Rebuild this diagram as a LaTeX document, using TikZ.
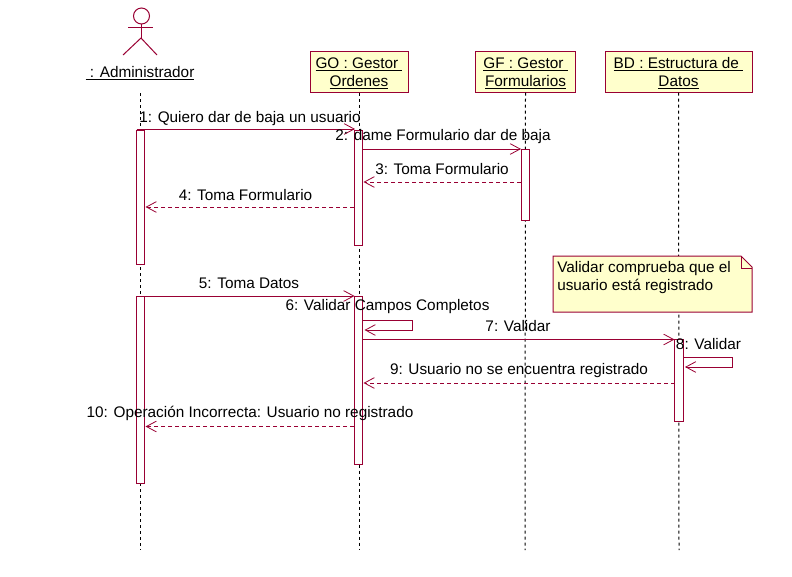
\documentclass[tikz,border=0pt]{standalone}
\usepackage{fontspec}
\setmainfont{Liberation Sans}
\usetikzlibrary{arrows.meta}
\definecolor{umlred}{RGB}{153,0,51}
\definecolor{umlfill}{RGB}{255,255,204}
\tikzset{
    objbox/.style={draw=umlred,fill=umlfill,line width=0.75pt,inner sep=0pt,align=center,font=\fontsize{11.5}{13.5}\selectfont},
    actbar/.style={draw=umlred,fill=white,line width=0.75pt,inner sep=0pt,minimum width=6.4pt},
    lifeline/.style={line width=0.75pt,dash pattern=on 2.25pt off 2.25pt},
    msg/.style={draw=umlred,line width=0.75pt,-{Straight Barb[length=7.5pt,width=8pt,line width=0.6pt]}},
    msgret/.style={msg,dash pattern=on 3pt off 2.25pt},
    msglabel/.style={inner sep=0pt,font=\fontsize{11.5}{13.5}\selectfont},
}
\begin{document}
\begin{tikzpicture}[x=0.75pt,y=-0.75pt,line cap=butt,line join=miter]
    \useasboundingbox (0,0) rectangle (792,576);
    % actor
    \draw [draw=umlred,line width=0.75pt] (141.5,16) circle (6pt);
    \draw [draw=umlred,line width=0.75pt] (141,24)-- (141,38);
    \draw [draw=umlred,line width=0.75pt] (128,27.5)-- (153,27.5);
    \draw [draw=umlred,line width=0.75pt] (123,55)-- (141,38)-- (157,55);
    \node[msglabel] (admin) at (140,73.5) {\underline{\ : Administrador}};
    % objects
    \node[objbox,minimum width=73.5pt,minimum height=30.75pt] (go) at (359,71.5) {\rule{0pt}{11pt}\underline{GO : Gestor\ }\\\underline{Ordenes}};
    \node[objbox,minimum width=75pt,minimum height=30.75pt] (gf) at (525.5,71.5) {\rule{0pt}{11pt}\underline{GF : Gestor\ }\\\underline{Formularios}};
    \node[objbox,minimum width=110.25pt,minimum height=30.75pt] (bd) at (678.5,71.5) {\rule{0pt}{11pt}\underline{BD : Estructura de\ }\\\underline{Datos}};
    % lifelines
    \coordinate (adminend) at (140.5,550);
    \coordinate (adminstart) at (140.5,93);
    \coordinate (goend) at (359,550);
    \coordinate (gfend) at (525,550);
    \coordinate (bdend) at (679,550);
    \draw [lifeline] (adminstart)-- (adminend);
    \draw [lifeline] (go.south)-- (goend);
    \draw [lifeline] (gf.south)-- (gfend);
    \draw [lifeline] (bd.south)-- (bdend);
    % activations
    \node[actbar,minimum height=100.5pt] (aone) at (140.5,197) {};
    \node[actbar,minimum height=86.25pt] (goone) at (358.5,187.5) {};
    \node[actbar,minimum height=53.25pt] (gfone) at (525.5,184.5) {};
    \node[actbar,minimum height=140.25pt] (atwo) at (140.5,389.5) {};
    \node[actbar,minimum height=126pt] (gotwo) at (358.5,380) {};
    \node[actbar,minimum height=61.5pt] (bdone) at (679,380) {};
    % note
    \draw [draw=umlred,fill=umlfill,line width=0.75pt] (553,256)-- (741,256)-- (752,267)-- (752,312)-- (553,312)-- cycle;
    \draw [draw=umlred,line width=0.75pt] (741,256)-- (741,268)-- (752,268);
    \node[msglabel,anchor=north west,align=left] (note) at (557,261.5) {Validar comprueba que el\\usuario está registrado};
    % messages
    \coordinate (ma) at (136.5,129);
    \coordinate (mb) at (355,129);
    \draw [msg] (ma)-- (mb);
    \coordinate (mc) at (363,149);
    \coordinate (md) at (521,149);
    \draw [msg] (mc)-- (md);
    \coordinate (me) at (521,182);
    \coordinate (mf) at (363.5,182);
    \draw [msgret] (me)-- (mf);
    \coordinate (mg) at (354,207);
    \coordinate (mh) at (145.5,207);
    \draw [msgret] (mg)-- (mh);
    \coordinate (mi) at (136.5,296);
    \coordinate (mj) at (354.5,296);
    \draw [msg] (mi)-- (mj);
    \coordinate (mk) at (363,320.5);
    \coordinate (ml) at (412.5,320.5);
    \coordinate (mm) at (412.5,330);
    \coordinate (mn) at (364.5,330);
    \draw [msg] (mk)-- (ml)-- (mm)-- (mn);
    \coordinate (mo) at (363,339.5);
    \coordinate (mp) at (674.5,339.5);
    \draw [msg] (mo)-- (mp);
    \coordinate (mq) at (683.5,357.5);
    \coordinate (mr) at (732.5,357.5);
    \coordinate (ms) at (732.5,367);
    \coordinate (mt) at (685,367);
    \draw [msg] (mq)-- (mr)-- (ms)-- (mt);
    \coordinate (mu) at (674.5,383);
    \coordinate (mv) at (363.5,383);
    \draw [msgret] (mu)-- (mv);
    \coordinate (mw) at (354,426.5);
    \coordinate (mx) at (145.5,426.5);
    \draw [msgret] (mw)-- (mx);
    % labels
    \node[msglabel] (la) at (250,118.5) {1: Quiero dar de baja un usuario};
    \node[msglabel] (lb) at (443,137) {2: dame Formulario dar de baja};
    \node[msglabel] (lc) at (442,169.5) {3: Toma Formulario};
    \node[msglabel] (ld) at (245.5,195) {4: Toma Formulario};
    \node[msglabel] (le) at (249,283.5) {5: Toma Datos};
    \node[msglabel] (lf) at (387.5,307) {6: Validar Campos Completos};
    \node[msglabel] (lg) at (518,326) {7: Validar};
    \node[msglabel] (lh) at (708.5,344) {8: Validar};
    \node[msglabel] (li) at (519,370.5) {9: Usuario no se encuentra registrado};
    \node[msglabel] (lj) at (250,413.5) {10: Operación Incorrecta: Usuario no registrado};
\end{tikzpicture}
\end{document}
